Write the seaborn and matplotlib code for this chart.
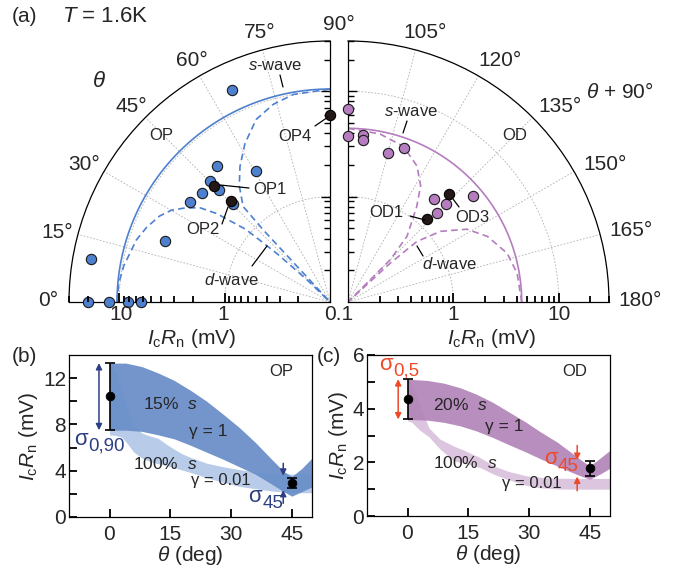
import numpy as np
import pandas as pd
import matplotlib
matplotlib.use("Agg")
import matplotlib.pyplot as plt
import seaborn as sns
from matplotlib.ticker import NullFormatter
from matplotlib.markers import TICKLEFT, TICKRIGHT

sns.set_theme(style="ticks")
plt.rcParams["font.family"] = ["Liberation Sans", "DejaVu Sans"]
plt.rcParams["mathtext.fontset"] = "custom"
plt.rcParams["mathtext.rm"] = "Liberation Sans"
plt.rcParams["mathtext.it"] = "Liberation Sans:italic"

# ---- polar data (theta in deg, IcRn in mV) ----
op_theta = [0, 0, 0, 0, 10.2, 20.4, 35.4, 40.4, 45.2, 45.3, 50.4, 45.3, 60.4, 65.2]
op_ic = [20.0, 12.6, 8.3, 6.2, 20.2, 4.7, 4.3, 3.95, 4.1, 3.1, 4.8, 2.04, 2.66, 16.6]
op_named_theta = [45.2, 45.3, 90]
op_named_ic = [3.6, 2.2, 6.0]

od_theta = [90, 90, 95.0, 95.2, 105, 110, 129.9, 134.9, 134.8, 139.8]
od_ic = [6.8, 3.8, 3.9, 3.5, 2.9, 3.6, 1.9, 1.56, 2.07, 3.6]
od_named_theta = [133.8, 133.2]
od_named_ic = [1.23, 2.55]

op_swave = 10.5
od_swave = 4.45

op_d1_theta = [0, 5, 10, 17.8, 22, 26.7, 30, 33.2, 36, 38, 40.8, 42.4, 44, 45]
op_d1_ic = [10.5, 10.3, 9.7, 8.5, 7.6, 6.5, 5.5, 4.3, 3.3, 2.3, 1.13, 0.48, 0.2, 0.1]
op_d2_theta = [90, 80, 74, 68, 61.8, 56.4, 52, 47.7, 47.2, 47.2, 47.4, 47.0]
op_d2_ic = [10.5, 10.0, 8.95, 7.4, 5.1, 3.5, 2.5, 1.68, 0.85, 0.42, 0.21, 0.1]

od_d1_theta = [90, 100.8, 109.6, 116.9, 122, 125.8, 131.9, 135, 135.5]
od_d1_ic = [4.45, 4.2, 3.7, 2.8, 2.0, 1.3, 0.69, 0.37, 0.1]
od_d2_theta = [180, 170.4, 163, 154.8, 148.5, 142.6, 138.7, 137.4, 136]
od_d2_ic = [4.45, 4.25, 3.8, 2.9, 2.1, 1.27, 0.74, 0.35, 0.1]

# ---- panel (b) OP bands ----
b_dark_x = [0, 4, 8, 12, 16, 20, 24, 28, 32, 36, 40, 43, 45, 47.5, 50]
b_dark_hi = [13.3, 13.3, 13.0, 12.45, 11.8, 10.95, 10.0, 8.9, 7.75, 6.45, 5.0, 3.95, 3.5, 4.2, 5.1]
b_dark_lo = [7.5, 7.5, 7.4, 7.1, 6.75, 6.2, 5.6, 5.0, 4.35, 3.7, 2.85, 2.2, 1.8, 2.2, 2.6]
b_light_x = [0, 1.5, 3, 4.5, 6, 8, 10, 12, 14, 16, 18, 20, 24, 28, 32, 36, 40, 45, 50]
b_light_hi = [13.3, 12.7, 11.0, 9.4, 7.9, 7.25, 7.0, 6.8, 6.3, 5.85, 5.45, 5.15, 4.65, 4.35, 4.1, 3.9, 3.8, 3.7, 3.7]
b_light_lo = [7.1, 7.05, 6.9, 6.3, 5.6, 5.1, 4.8, 4.6, 4.45, 4.25, 4.05, 3.85, 3.4, 3.0, 2.65, 2.45, 2.25, 2.1, 2.1]
b_pts_x = [0, 45]
b_pts_y = [10.45, 2.91]
b_err_lo = [2.95, 0.43]
b_err_hi = [2.85, 0.43]

# ---- panel (c) OD bands ----
c_dark_x = [0, 5, 9, 13, 17, 21, 25, 29, 33, 37, 41, 43, 45, 47.5, 50]
c_dark_hi = [5.1, 5.05, 4.95, 4.78, 4.54, 4.24, 3.88, 3.52, 3.12, 2.75, 2.3, 2.07, 1.86, 2.15, 2.45]
c_dark_lo = [3.6, 3.57, 3.49, 3.36, 3.17, 2.93, 2.66, 2.4, 2.12, 1.86, 1.6, 1.48, 1.37, 1.56, 1.78]
c_light_x = [0, 1, 3, 5.3, 8, 11.5, 14, 18, 21.4, 25, 29.6, 33, 37, 41, 45, 50]
c_light_hi = [5.1, 4.95, 4.15, 3.28, 2.87, 2.6, 2.45, 2.17, 1.86, 1.66, 1.49, 1.44, 1.41, 1.4, 1.4, 1.4]
c_light_lo = [3.55, 3.5, 3.2, 2.95, 2.5, 2.05, 1.97, 1.8, 1.55, 1.35, 1.13, 1.05, 1.01, 1.0, 1.0, 1.0]
c_pts_x = [0, 45]
c_pts_y = [4.36, 1.78]
c_err_lo = [0.76, 0.28]
c_err_hi = [0.74, 0.27]

BLUE = "#4d80cf"
PURPLE = "#b57dbf"
NAVY = "#2c3f82"
RED = "#ee4a2a"
TICK_W = 1.3

W, H = 681, 574
fig = plt.figure(figsize=(W / 100, H / 100), dpi=100)


def px(x, y):
    return x / W, 1 - y / H


def box(x0, y0, x1, y1):
    return [x0 / W, 1 - y1 / H, (x1 - x0) / W, (y1 - y0) / H]


def ftext(x, y, s, size=12, **kw):
    fig.text(*px(x, y), s, fontsize=size, ha=kw.pop("ha", "center"),
             va=kw.pop("va", "center"), zorder=20, **kw)


def leader(x0, y0, x1, y1):
    fig.add_artist(plt.Line2D([x0 / W, x1 / W], [1 - y0 / H, 1 - y1 / H],
                              color="black", lw=0.9, zorder=20))


def sigma(ax, x, y, sub, color, drop):
    ax.annotate("σ", xy=(x, y), ha="right", va="baseline", fontsize=16, color=color)
    ax.annotate(sub, xy=(x, y), xytext=(0.3, -drop), textcoords="offset points",
                ha="left", va="baseline", fontsize=13.5, color=color)


# radial tick values (log axis, 0.1 .. 30)
r_major = [1, 10]
r_minor = [k * d for d in (0.1, 1, 10) for k in range(2, 10) if k * d <= 30]

axl = fig.add_axes(box(69, 41, 330, 302), projection="polar")
axr = fig.add_axes(box(348, 41, 609, 302), projection="polar")

for ax, tmin, tmax, edge, mk in ((axl, 0, 90, 90, TICKLEFT),
                                 (axr, 90, 180, 90, TICKRIGHT)):
    ax.set_theta_zero_location("W")
    ax.set_theta_direction(-1)
    ax.set_thetamin(tmin)
    ax.set_thetamax(tmax)
    ax.set_rscale("log")
    ax.set_rlim(0.1, 30)
    ax.set_thetagrids(range(tmin, tmax + 1, 15), labels=[""] * 7)
    ax.set_rticks([0.1, 1, 10])
    ax.set_yticklabels([])
    ax.yaxis.set_minor_formatter(NullFormatter())
    ax.grid(True, which="major", color="#b0b0b0", ls=(0, (2, 2)), lw=0.6)
    ax.tick_params(axis="y", which="both", tick1On=False, tick2On=False)
    ax.tick_params(axis="x", direction="in", length=5, width=TICK_W, color="black")
    for sp in ax.spines.values():
        sp.set_color("black")
        sp.set_linewidth(0.9)
    # radial ticks on the vertical (90 deg) edge, pointing inward
    ax.plot(np.deg2rad([edge] * len(r_minor)), r_minor, ls="none", marker=mk,
            ms=4.5, mew=1.0, color="black", zorder=7, clip_on=False)
    ax.plot(np.deg2rad([edge] * len(r_major)), r_major, ls="none", marker=mk,
            ms=6.5, mew=1.0, color="black", zorder=7, clip_on=False)

# left polar: OP
arc_l = np.linspace(0, 90, 91)
axl.plot(np.deg2rad(arc_l), [op_swave] * len(arc_l), color=BLUE, lw=1.2)
axl.plot(np.deg2rad(op_d1_theta), op_d1_ic, color=BLUE, lw=1.2, ls=(0, (4, 2.5)))
axl.plot(np.deg2rad(op_d2_theta), op_d2_ic, color=BLUE, lw=1.2, ls=(0, (4, 2.5)))
op_df = pd.DataFrame({"t": np.deg2rad(op_theta), "r": op_ic})
sns.scatterplot(data=op_df, x="t", y="r", ax=axl, color=BLUE, s=55,
                edgecolor="#1a1a1a", linewidth=0.8, zorder=8, clip_on=False)
opn_df = pd.DataFrame({"t": np.deg2rad(op_named_theta), "r": op_named_ic})
sns.scatterplot(data=opn_df, x="t", y="r", ax=axl, color="#231815", s=55,
                edgecolor="black", linewidth=0.8, zorder=9, clip_on=False)

# right polar: OD
arc_r = np.linspace(90, 180, 91)
axr.plot(np.deg2rad(arc_r), [od_swave] * len(arc_r), color=PURPLE, lw=1.2)
axr.plot(np.deg2rad(od_d1_theta), od_d1_ic, color=PURPLE, lw=1.2, ls=(0, (4, 2.5)))
axr.plot(np.deg2rad(od_d2_theta), od_d2_ic, color=PURPLE, lw=1.2, ls=(0, (4, 2.5)))
od_df = pd.DataFrame({"t": np.deg2rad(od_theta), "r": od_ic})
sns.scatterplot(data=od_df, x="t", y="r", ax=axr, color=PURPLE, s=55,
                edgecolor="#1a1a1a", linewidth=0.8, zorder=8, clip_on=False)
odn_df = pd.DataFrame({"t": np.deg2rad(od_named_theta), "r": od_named_ic})
sns.scatterplot(data=odn_df, x="t", y="r", ax=axr, color="#231815", s=55,
                edgecolor="black", linewidth=0.8, zorder=9, clip_on=False)

for ax in (axl, axr):
    ax.set_xlabel("")
    ax.set_ylabel("")

# radial ticks on the horizontal edges: thin transparent log-scaled strips on the edge
for x0, x1, lim in ((69, 330, (30, 0.1)), (348, 609, (0.1, 30))):
    strip = fig.add_axes(box(x0, 292, x1, 302))
    strip.set_xscale("log")
    strip.set_xlim(*lim)
    strip.set_ylim(0, 1)
    strip.set_axis_off()
    strip.set_zorder(10)
    xt = strip.get_xaxis_transform()
    strip.vlines(r_minor, 0, 0.65, transform=xt, color="black", lw=TICK_W, clip_on=False)
    strip.vlines(r_major, 0, 0.95, transform=xt, color="black", lw=TICK_W, clip_on=False)

# angle labels
for t, (x, y) in zip([0, 15, 30, 45, 60, 75],
                     [(48, 301), (57, 233), (84, 164), (131, 106), (192, 61), (260, 33)]):
    ftext(x, y, f"{t}°", 15)
ftext(339, 25, "90°", 15)
for t, (x, y) in zip([105, 120, 135, 150, 165, 180],
                     [(425, 33), (500, 61), (560, 106), (605, 164), (631, 231), (640, 300)]):
    ftext(x, y, f"{t}°", 15)

# radial labels
for s, x in (("10", 121), ("1", 223), ("0.1", 339), ("1", 453), ("10", 559)):
    ftext(x, 315, s, 15)
ftext(192, 338, r"$I_{\rm c}R_{\rm n}$ (mV)", 15)
ftext(492, 338, r"$I_{\rm c}R_{\rm n}$ (mV)", 15)

ftext(24, 17, "(a)", 15)
ftext(62, 17, r"$T$ = 1.6K", 16, ha="left")
ftext(99, 82, r"$\theta$", 16)
ftext(620, 92, r"$\theta$ + 90°", 15)
ftext(161, 135, "OP", 12)
ftext(515, 135, "OD", 12)

ftext(275, 66, r"$s$-wave", 12)
leader(280, 75, 283, 87)
ftext(231, 280, r"$d$-wave", 12)
leader(252, 266, 267, 246)
ftext(270, 190, "OP1", 12)
leader(220, 185, 249, 188)
ftext(203, 230, "OP2", 12)
leader(228, 207, 222, 224)
ftext(295, 136, "OP4", 12)
leader(315, 126, 328, 117)
ftext(411, 111, r"$s$-wave", 12)
leader(407, 121, 403, 133)
ftext(449, 264, r"$d$-wave", 12)
leader(417, 246, 423, 256)
ftext(386, 212, "OD1", 12)
leader(410, 216, 425, 220)
ftext(472, 218, "OD3", 12)
leader(453, 199, 459, 207)

# ---- bottom panels ----
axb = fig.add_axes(box(69, 355, 312, 517))
axc = fig.add_axes(box(367, 355, 610, 516))

axb.fill_between(b_light_x, b_light_lo, b_light_hi, color="#b8cbe8", lw=0, zorder=1)
axb.fill_between(b_dark_x, b_dark_lo, b_dark_hi, color="#6a8fc9", lw=0, alpha=0.94, zorder=2)
axc.fill_between(c_light_x, c_light_lo, c_light_hi, color="#dcc5df", lw=0, zorder=1)
axc.fill_between(c_dark_x, c_dark_lo, c_dark_hi, color="#b387b9", lw=0, alpha=0.94, zorder=2)

for ax, xs, ys, lo, hi in ((axb, b_pts_x, b_pts_y, b_err_lo, b_err_hi),
                           (axc, c_pts_x, c_pts_y, c_err_lo, c_err_hi)):
    ax.errorbar(xs, ys, yerr=[lo, hi], fmt="none", ecolor="black",
                elinewidth=1.2, capsize=3.5, capthick=1.2, zorder=4)
    sns.scatterplot(x=xs, y=ys, ax=ax, color="black", s=40, edgecolor="black",
                    zorder=5, legend=False)

axb.set_ylim(0, 14)
axc.set_ylim(0, 6)
for ax in (axb, axc):
    ax.set_xlim(-10, 50)
    ax.set_xticks([0, 15, 30, 45])
    ax.tick_params(axis="both", which="both", direction="in", length=6,
                   width=TICK_W, labelsize=15, pad=2, color="black")
    ax.tick_params(axis="x", pad=6)
    ax.set_xlabel(r"$\theta$ (deg)", fontsize=15, labelpad=0)
    ax.set_ylabel(r"$I_{\rm c}R_{\rm n}$ (mV)", fontsize=15, labelpad=2)
    for sp in ax.spines.values():
        sp.set_color("black")
        sp.set_linewidth(0.9)
axb.set_yticks([0, 4, 8, 12])
axb.set_yticks([2, 6, 10], minor=True)
axc.set_yticks([0, 2, 4, 6])
axc.set_yticks([1, 3, 5], minor=True)

# annotations (b)
aprops = dict(arrowstyle="<|-|>", lw=1.1, shrinkA=0, shrinkB=0, mutation_scale=9)
one = dict(arrowstyle="-|>", lw=1.1, shrinkA=0, shrinkB=0, mutation_scale=9)
axb.annotate("", xy=(-2.6, b_pts_y[0] + b_err_hi[0]), xytext=(-2.6, b_pts_y[0] - b_err_lo[0]),
             arrowprops=dict(aprops, color=NAVY))
axb.annotate("", xy=(42.9, 3.57), xytext=(42.9, 4.64), arrowprops=dict(one, color=NAVY))
axb.annotate("", xy=(42.9, 2.33), xytext=(42.9, 1.18), arrowprops=dict(one, color=NAVY))
sigma(axb, -5.4, 6.2, "0,90", NAVY, 4)
sigma(axb, 37.6, 1.3, "45", NAVY, 4.5)
axb.text(42.5, 12.6, "OP", fontsize=12, ha="center", va="center")
axb.text(8.2, 9.8, r"15%  $s$", fontsize=12.5, ha="left", va="center")
axb.text(24.3, 7.4, "γ = 1", fontsize=12.5, ha="center", va="center")
axb.text(5.8, 4.6, r"100%  $s$", fontsize=12.5, ha="left", va="center")
axb.text(27.6, 3.15, "γ = 0.01", fontsize=12, ha="center", va="center")

# annotations (c)
axc.annotate("", xy=(-2.3, c_pts_y[0] + c_err_hi[0]), xytext=(-2.3, c_pts_y[0] - c_err_lo[0]),
             arrowprops=dict(aprops, color=RED))
axc.annotate("", xy=(41.9, 2.09), xytext=(41.9, 2.63), arrowprops=dict(one, color=RED))
axc.annotate("", xy=(41.9, 1.47), xytext=(41.9, 0.94), arrowprops=dict(one, color=RED))
sigma(axc, -3.6, 5.44, "0,5", RED, 4)
sigma(axc, 37.0, 1.93, "45", RED, 5)
axc.text(41.3, 5.38, "OD", fontsize=12, ha="center", va="center")
axc.text(6.2, 4.15, r"20%  $s$", fontsize=12.5, ha="left", va="center")
axc.text(24, 3.35, "γ = 1", fontsize=12.5, ha="center", va="center")
axc.text(6.2, 1.99, r"100%  $s$", fontsize=12.5, ha="left", va="center")
axc.text(30.6, 1.2, "γ = 0.01", fontsize=12, ha="center", va="center")

ftext(24, 356, "(b)", 15)
ftext(329, 356, "(c)", 15)

fig.savefig("out.png", dpi=100)
